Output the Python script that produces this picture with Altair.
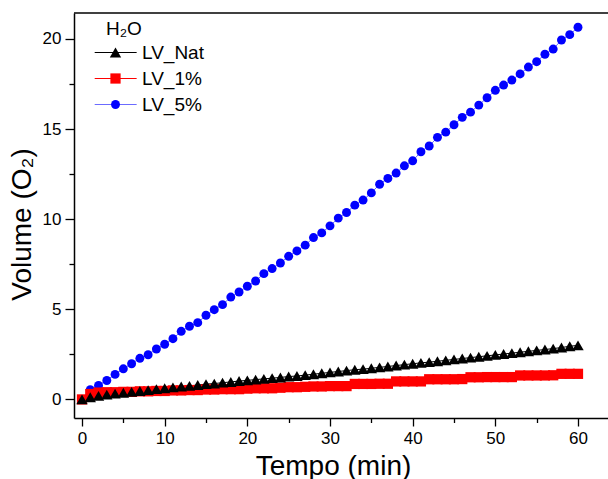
import altair as alt
import pandas as pd

minutes = list(range(0, 61))
series_names = ["LV_Nat", "LV_1%", "LV_5%"]
line_keys = ["line_nat", "line_1", "line_5"]

lv_nat = [0.0, 0.12, 0.2, 0.27, 0.32, 0.37, 0.42, 0.47, 0.52, 0.57,
          0.62, 0.67, 0.72, 0.75, 0.8, 0.85, 0.88, 0.93, 0.97, 1.02,
          1.06, 1.1, 1.14, 1.18, 1.22, 1.27, 1.3, 1.35, 1.4, 1.45,
          1.5, 1.55, 1.6, 1.65, 1.68, 1.73, 1.78, 1.83, 1.88, 1.93,
          1.98, 2.03, 2.07, 2.12, 2.17, 2.22, 2.27, 2.32, 2.37, 2.42,
          2.47, 2.52, 2.57, 2.62, 2.67, 2.72, 2.77, 2.82, 2.88, 2.95, 3.0]

lv_1 = [0.0, 0.3, 0.38, 0.4, 0.4, 0.42, 0.42, 0.45, 0.45, 0.47,
        0.47, 0.5, 0.5, 0.52, 0.52, 0.55, 0.55, 0.57, 0.57, 0.57,
        0.6, 0.62, 0.62, 0.62, 0.65, 0.68, 0.68, 0.7, 0.72, 0.72,
        0.74, 0.74, 0.74, 0.86, 0.86, 0.86, 0.87, 0.87, 1.0, 1.0,
        1.0, 1.0, 1.12, 1.12, 1.12, 1.12, 1.13, 1.23, 1.23, 1.24,
        1.24, 1.24, 1.24, 1.33, 1.33, 1.33, 1.33, 1.34, 1.42, 1.42, 1.42]

lv_5 = [0.0, 0.54, 0.78, 1.05, 1.39, 1.7, 1.98, 2.28, 2.48, 2.8,
        3.06, 3.37, 3.78, 4.06, 4.26, 4.67, 4.98, 5.26, 5.68, 5.96,
        6.28, 6.57, 6.98, 7.26, 7.57, 7.94, 8.24, 8.56, 8.98, 9.24,
        9.63, 10.06, 10.37, 10.78, 11.06, 11.46, 11.94, 12.26, 12.56, 12.96,
        13.24, 13.74, 14.06, 14.54, 14.83, 15.24, 15.65, 15.94, 16.33, 16.74,
        17.15, 17.44, 17.72, 18.06, 18.44, 18.74, 19.15, 19.44, 19.94, 20.24, 20.65]

x_ticks = list(range(0, 61, 5))
y_ticks = [0, 2.5, 5, 7.5, 10, 12.5, 15, 17.5, 20]

marker_colors = ["#000000", "#ff0000", "#0000ff"]
line_colors = ["#000000", "#ff0000", "#6b6bff"]
marker_shapes = ["triangle-up", "square", "circle"]
marker_sizes = [130, 80, 90]

rows = []
for name, key, vals in [("LV_5%", "line_5", lv_5), ("LV_1%", "line_1", lv_1),
                        ("LV_Nat", "line_nat", lv_nat)]:
    for t, v in zip(minutes, vals):
        rows.append({"t": t, "v": v, "serie": name, "linekey": key})
df = pd.DataFrame(rows)

FONT = "Liberation Sans"
W, H = 534, 405

xscale = alt.Scale(domain=[-0.968, 63.63], nice=False, zero=False)
yscale = alt.Scale(domain=[-1.03, 21.44], nice=False, zero=False)

x_axis = alt.Axis(
    values=x_ticks,
    labelExpr="datum.value % 10 === 0 ? datum.label : ''",
    tickSize={"condition": {"test": "datum.value % 10 === 0", "value": 8}, "value": 4.5},
    labelPadding=4, labelFontSize=17, labelFont=FONT, labelColor="black",
    labelOverlap=False, labelFlush=False,
    title="Tempo (min)", titleFont=FONT, titleFontSize=28, titleFontWeight="normal",
    titleColor="black", titleX=259, titleY=48, titleBaseline="middle", titleAlign="center",
    grid=False, domainColor="black", domainWidth=1.5, tickColor="black", tickWidth=1.3,
)
y_axis = alt.Axis(
    values=y_ticks,
    labelExpr="datum.value % 5 === 0 ? datum.label : ''",
    tickSize={"condition": {"test": "datum.value % 5 === 0", "value": 9}, "value": 5},
    labelPadding=4, labelFontSize=17, labelFont=FONT, labelColor="black",
    labelOverlap=False, labelFlush=False,
    title="Volume (O₂)", titleFont=FONT, titleFontSize=28, titleFontWeight="normal",
    titleColor="black", titleX=-52, titleY=211, titleBaseline="middle", titleAlign="center",
    grid=False, domainColor="black", domainWidth=1.5, tickColor="black", tickWidth=1.3,
)

common_legend = dict(
    padding=0, titleFont=FONT, titleFontSize=19, titleFontWeight="normal",
    titlePadding=4, labelFont=FONT, labelFontSize=19, labelOffset=17, rowPadding=6,
)

points_legend = alt.Legend(orient="none", legendX=32, legendY=7, title="H₂O",
                           titleColor="black", labelColor="black",
                           symbolSize=110, symbolStrokeWidth=0, **common_legend)
# separate legend that only draws the line segments behind the markers
line_legend = alt.Legend(orient="top-left", offset=7, title=" ", labelExpr="' '",
                         titleColor="white", labelColor="white",
                         symbolType="M0.8,0H8.8", symbolSize=110, symbolStrokeWidth=1.2,
                         **common_legend)

base = alt.Chart(df)

lines = base.mark_line(strokeWidth=1, clip=True).encode(
    x=alt.X("t:Q", scale=xscale, axis=x_axis),
    y=alt.Y("v:Q", scale=yscale, axis=y_axis),
    color=alt.Color("linekey:N", scale=alt.Scale(domain=line_keys, range=line_colors),
                    legend=line_legend),
)

points = base.mark_point(filled=True, opacity=1, clip=True).encode(
    x=alt.X("t:Q", scale=xscale, axis=x_axis),
    y=alt.Y("v:Q", scale=yscale, axis=y_axis),
    color=alt.Color("serie:N", scale=alt.Scale(domain=series_names, range=marker_colors),
                    legend=points_legend),
    shape=alt.Shape("serie:N", scale=alt.Scale(domain=series_names, range=marker_shapes),
                    legend=points_legend),
    size=alt.Size("serie:N", scale=alt.Scale(domain=series_names, range=marker_sizes),
                  legend=None),
)

border = alt.Chart(pd.DataFrame({"k": [0]})).mark_rule(color="black", strokeWidth=1.6).encode(
    x=alt.value(0), x2=alt.value(W), y=alt.value(0)
)

chart = (
    alt.layer(lines, points, border)
    .resolve_scale(color="independent", shape="independent", size="independent")
    .properties(
        width=W, height=H,
        padding={"left": 74, "top": 13, "right": 0, "bottom": 61},
        autosize=alt.AutoSizeParams(type="none"),
        background="white",
    )
    .configure_view(stroke=None)
)

chart.save("out.html", embed_options={"renderer": "svg", "actions": False})
